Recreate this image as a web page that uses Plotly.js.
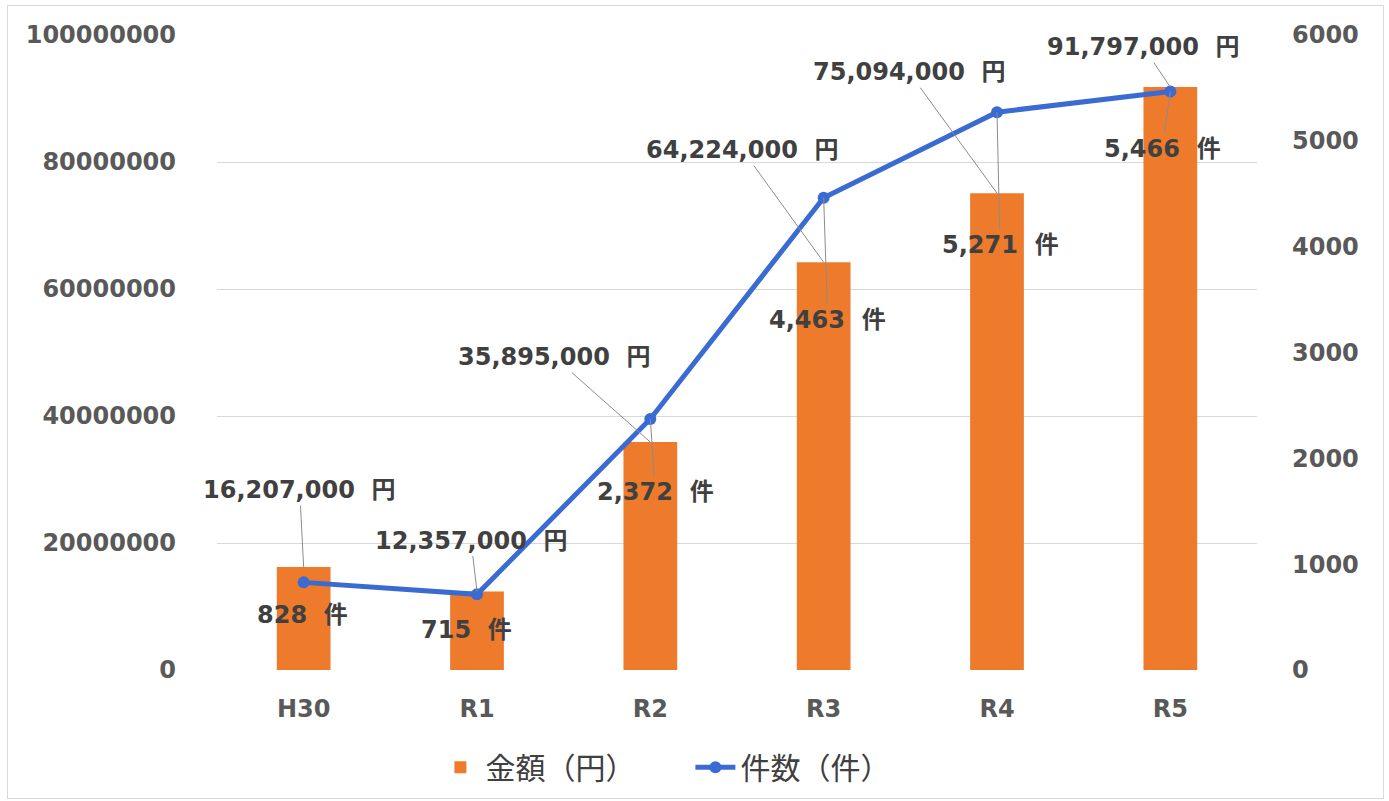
<!DOCTYPE html>
<html>
<head>
<meta charset="utf-8">
<script src="https://cdn.plot.ly/plotly-3.0.1.min.js"></script>
<style>
  html, body { margin: 0; padding: 0; background: #ffffff; }
  #chart { width: 1389px; height: 801px; }
  #frame { position: absolute; left: 7px; top: 5px; width: 1375px; height: 792px; border: 1px solid #d9d9d9; pointer-events: none; }
</style>
</head>
<body>
<div id="chart"></div>
<div id="frame"></div>
<script>
// ---- data ----
const categories = ['H30', 'R1', 'R2', 'R3', 'R4', 'R5'];
const amounts = [16207000, 12357000, 35895000, 64224000, 75094000, 91797000];
const counts = [828, 715, 2372, 4463, 5271, 5466];
const seriesNames = ['金額（円）', '件数（件）'];
const amountUnit = '円';
const countUnit = '件';

// ---- label placement (pixel offsets, style only) ----
const amountOffsets = [[-4, -77], [-6, -51], [-96, -85], [-81, -112], [-88, -121], [-27, -40]];
const countOffsets = [[-1, 33, false], [-11, 36, false], [5, 73, true], [4, 122, true], [3, 133, true], [-8, 57, true]];

const numFont = 'DejaVu Sans, "Noto Sans CJK JP", sans-serif';
const fmt = v => v.toLocaleString('en-US');

const bars = {
  type: 'bar', name: seriesNames[0], x: categories, y: amounts, yaxis: 'y',
  width: 0.31,
  marker: { color: '#EE7B2C', line: { width: 0 } }
};
const line = {
  type: 'scatter', mode: 'lines+markers', name: seriesNames[1], x: categories, y: counts, yaxis: 'y2',
  line: { color: '#3A6BD2', width: 5 },
  marker: { color: '#3A6BD2', size: 12, symbol: 'circle' }
};

const annotations = [];
categories.forEach((c, i) => {
  annotations.push({
    x: c, y: amounts[i], xref: 'x', yref: 'y',
    text: fmt(amounts[i]) + '\u00A0\u00A0' + amountUnit,
    showarrow: true, arrowhead: 0, arrowwidth: 1, arrowcolor: '#8c8c8c', standoff: 0,
    ax: amountOffsets[i][0], ay: amountOffsets[i][1],
    font: { family: numFont, size: 24, color: '#404040', weight: 'bold' }
  });
  annotations.push({
    x: c, y: counts[i], xref: 'x', yref: 'y2',
    text: fmt(counts[i]) + '\u00A0\u00A0' + countUnit,
    showarrow: true, arrowhead: 0, arrowwidth: 1,
    arrowcolor: countOffsets[i][2] ? '#8c8c8c' : 'rgba(0,0,0,0)', standoff: 0,
    ax: countOffsets[i][0], ay: countOffsets[i][1],
    font: { family: numFont, size: 24, color: '#404040', weight: 'bold' }
  });
});

const tickFont = { family: numFont, size: 24, color: '#595959', weight: 'bold' };

const layout = {
  width: 1389, height: 801,
  margin: { l: 217, r: 132, t: 35, b: 131, autoexpand: false },
  paper_bgcolor: '#ffffff', plot_bgcolor: '#ffffff',
  showlegend: true,
  legend: {
    orientation: 'h', x: 0.21, xanchor: 'left', y: -0.153, yanchor: 'middle',
    font: { family: '"Noto Sans CJK JP", sans-serif', size: 30, color: '#404040' },
    itemwidth: 40, entrywidth: 200, traceorder: 'normal'
  },
  xaxis: {
    type: 'category', range: [-0.5, 5.5], showgrid: false, zeroline: false, showline: false, automargin: false,
    ticks: '', ticklabelstandoff: 22, tickfont: tickFont
  },
  yaxis: {
    range: [0, 100000000], dtick: 20000000, tick0: 0, tickformat: 'd', automargin: false,
    showgrid: true, gridcolor: '#d9d9d9', gridwidth: 1,
    zeroline: false, showline: false, ticks: '', ticklabelstandoff: 40, tickfont: tickFont
  },
  yaxis2: {
    overlaying: 'y', side: 'right', range: [0, 6000], dtick: 1000, tick0: 0, tickformat: 'd', automargin: false,
    showgrid: false, zeroline: false, showline: false, ticks: '', ticklabelstandoff: 34, tickfont: tickFont
  },
  annotations: annotations
};

Plotly.newPlot('chart', [bars, line], layout, { displayModeBar: false, staticPlot: true });
</script>
</body>
</html>
